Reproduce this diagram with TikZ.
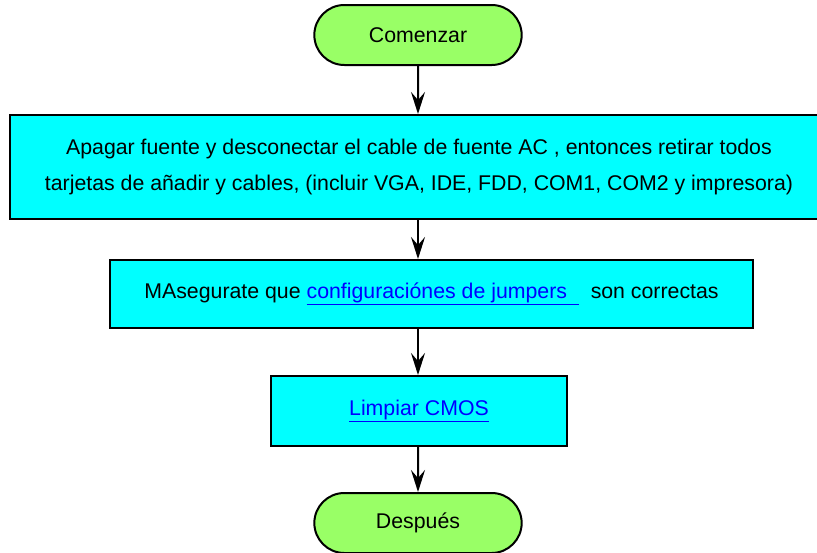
\documentclass[tikz,border=0pt]{standalone}
\usepackage{fontspec}
\setmainfont{Liberation Sans}
\usetikzlibrary{arrows.meta,shapes.misc}
\definecolor{termgreen}{HTML}{99FF66}
\definecolor{boxcyan}{HTML}{00FFFF}
\definecolor{linkblue}{HTML}{0000FF}
\tikzset{
    terminal/.style={rounded rectangle, draw, line width=2pt, fill=termgreen,
        minimum width=214pt, minimum height=60pt, font=\fontsize{21.3}{24}\selectfont},
    stepbox/.style={rectangle, draw, line width=2pt, fill=boxcyan,
        font=\fontsize{21.3}{36}\selectfont, align=center},
    flow/.style={-{Stealth[length=22pt,width=14pt,inset=8pt]}, line width=2pt},
}
\newcommand{\linktext}[1]{\textcolor{linkblue}{\underline{#1}}}
\begin{document}
\begin{tikzpicture}[x=1pt,y=-1pt]
    \useasboundingbox (0,0) rectangle (817,552);
    \node[terminal] (start) at (418,35) {Comenzar};
    \node[stepbox, minimum width=818pt, minimum height=104pt] (power) at (419,167)
        {Apagar fuente y desconectar el cable de fuente AC , entonces retirar todos\\
         tarjetas de añadir y cables, (incluir VGA, IDE, FDD, COM1, COM2 y impresora)};
    \node[stepbox, minimum width=643pt, minimum height=68pt] (jumpers) at (431.5,294)
        {MAsegurate que \linktext{configuraciónes de jumpers\ \ } \ son correctas};
    \node[stepbox, minimum width=296pt, minimum height=70pt] (cmos) at (419,411)
        {\linktext{Limpiar CMOS}};
    \node[terminal] (after) at (418,523) {Después};
    % Connectors
    \draw[flow] (start) -- (start |- power.north);
    \draw[flow] (start |- power.south) -- (start |- jumpers.north);
    \draw[flow] (start |- jumpers.south) -- (start |- cmos.north);
    \draw[flow] (start |- cmos.south) -- (after);
\end{tikzpicture}
\end{document}
